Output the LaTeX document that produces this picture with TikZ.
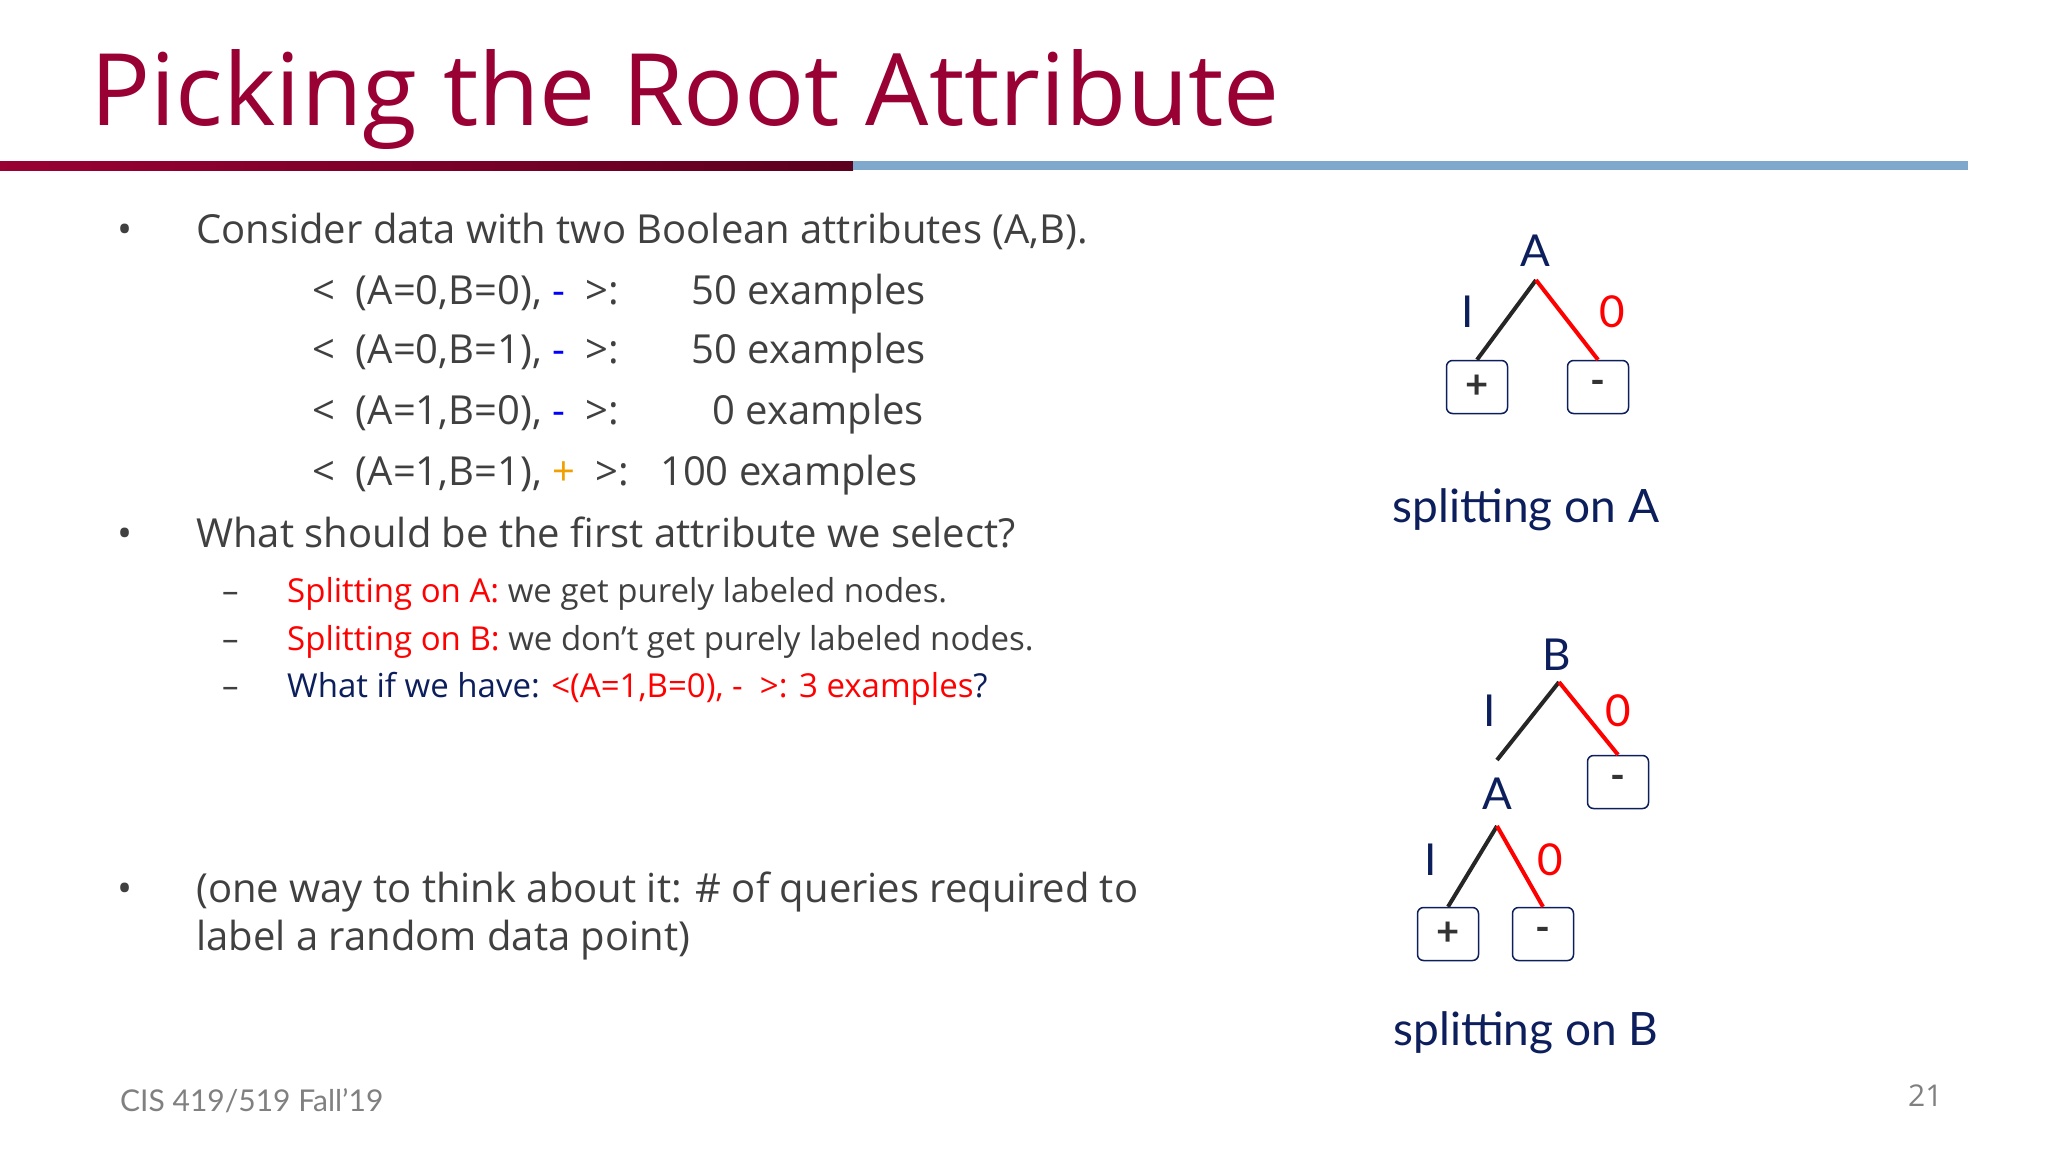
\documentclass[tikz,border=0pt]{standalone}
\usepackage{fontspec}
\setmainfont{Open Sans}
\newfontfamily\treefont{Lato}
\begin{document}
\begin{tikzpicture}[x=1pt,y=-1pt,
  txt/.style={anchor=base west,inner sep=0pt,text=textgray,font=\fontsize{40}{48}\selectfont},
  subtxt/.style={anchor=base west,inner sep=0pt,text=textgray,font=\fontsize{33}{40}\selectfont},
  tlab/.style={inner sep=0pt,text=navy,font=\treefont\fontsize{44}{50}\selectfont},
  leaf/.style={draw=navy,line width=1.5pt,rounded corners=6pt,minimum width=61pt,minimum height=53pt,inner sep=0pt,font=\treefont\bfseries\fontsize{40}{44}\selectfont,text=black!80},
  blk/.style={line width=4pt,black!85},
  rd/.style={line width=4pt,red}]
\definecolor{titlered}{HTML}{990033}
\definecolor{navy}{HTML}{0C1F5C}
\definecolor{textgray}{HTML}{404040}
\definecolor{orng}{HTML}{F0A000}
\definecolor{lblue}{HTML}{7FA8CC}
\useasboundingbox[fill=white] (0,0) rectangle (2048,1152);
\node[anchor=base west,inner sep=0pt,text=titlered,font=\fontsize{100}{110}\selectfont] (title) at (90,125) {Picking the Root Attribute};
\fill[left color=titlered,right color=titlered!60!black] (0,161) rectangle (853,170);
\fill[lblue] (853,161) rectangle (1968,170);
% bullets
\foreach \y/\n in {243/b1,547/b2,902/b3}{\node[txt] (\n) at (117,\y) {•};}
\node[txt] (l1) at (196,243) {Consider data with two Boolean attributes (A,B).};
\foreach \y/\a/\s/\c/\e/\n in {304/{A=0,B=0}/-/blue/{\ \ \ 50 examples}/d1,363/{A=0,B=1}/-/blue/{\ \ \ 50 examples}/d2,424/{A=1,B=0}/-/blue/{\ \ \ \ \ 0 examples}/d3,485/{A=1,B=1}/+/orng/{100 examples}/d4}{
  \node[txt] (\n) at (312,\y) {<\ \ (\a), \textcolor{\c}{\s}\ \ >:};
  \node[txt] (\n e) at (\ifx\c\empty0\fi 660,\y) {\e};}
\node[txt] (l2) at (196,547) {What should be the first attribute we select?};
\foreach \y/\n in {602/s1,650/s2,697/s3}{\node[subtxt] (\n) at (222,\y) {–};}
\node[subtxt] (t1) at (287,602) {\textcolor{red}{Splitting on A:} we get purely labeled nodes.};
\node[subtxt] (t2) at (287,650) {\textcolor{red}{Splitting on B:} we don’t get purely labeled nodes.};
\node[subtxt,text=navy] (t3) at (287,697) {What if we have: \textcolor{red}{<(A=1,B=0), -\ \ >: 3 examples}?};
\node[txt] (l3) at (196,902) {(one way to think about it: \# of queries required to};
\node[txt] (l4) at (196,950) {label a random data point)};
\node[anchor=base west,inner sep=0pt,text=gray,font=\treefont\fontsize{30}{36}\selectfont] (foot) at (120,1111) {CIS 419/519 Fall’19};
\node[anchor=base west,inner sep=0pt,text=gray,font=\fontsize{30}{36}\selectfont] (pg) at (1908,1106) {21};
% tree 1
\node[tlab] (A1) at (1535,251) {A};
\coordinate (ap1) at (1536,280);
\node[leaf] (p1) at (1477,387) {+};
\node[leaf] (m1) at (1598,387) {-};
\draw[blk] (ap1) -- (p1.north);
\draw[rd] (ap1) -- (m1.north);
\node[tlab] (i1) at (1468,312) {I};
\node[tlab,text=red] (o1) at (1612,312) {0};
\node[tlab,font=\treefont\fontsize{46}{50}\selectfont] (cap1) at (1526,510) {splitting on A};
% tree 2
\node[tlab] (B2) at (1557,655) {B};
\coordinate (ap2) at (1559,682);
\coordinate (le2) at (1497,760);
\node[leaf] (m2) at (1618,782) {-};
\draw[blk] (ap2) -- (le2);
\draw[rd] (ap2) -- (m2.north);
\node[tlab] (i2) at (1490,711) {I};
\node[tlab,text=red] (o2) at (1618,711) {0};
\node[tlab] (A2) at (1497,794) {A};
\coordinate (ap3) at (1497,826);
\node[leaf] (p3) at (1448,934) {+};
\node[leaf] (m3) at (1543,934) {-};
\draw[blk] (ap3) -- (p3.north);
\draw[rd] (ap3) -- (m3.north);
\node[tlab] (i3) at (1431,860) {I};
\node[tlab,text=red] (o3) at (1550,860) {0};
\node[tlab,font=\treefont\fontsize{46}{50}\selectfont] (cap2) at (1526,1033) {splitting on B};
\end{tikzpicture}
\end{document}
